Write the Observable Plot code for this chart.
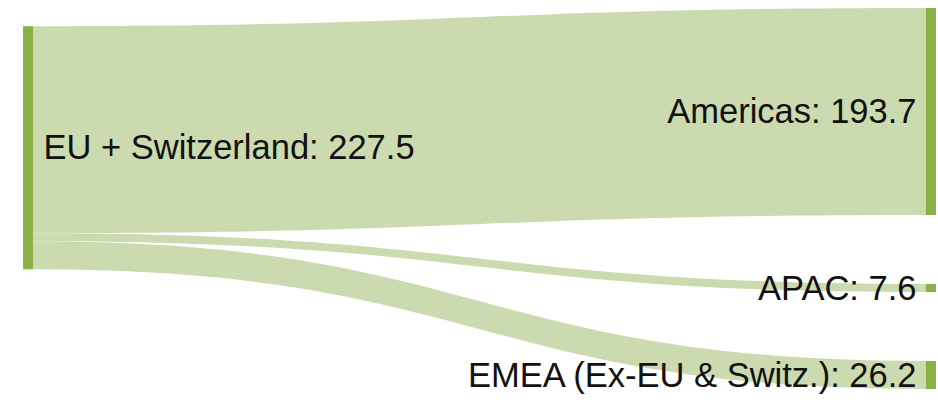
<!DOCTYPE html>
<html>
<head>
<meta charset="utf-8">
<script src="https://cdn.jsdelivr.net/npm/d3@7"></script>
<script src="https://cdn.jsdelivr.net/npm/@observablehq/plot@0.6"></script>
<style>
  html, body { margin: 0; padding: 0; background: #fff; }
  #chart { width: 938px; height: 404px; }
</style>
</head>
<body>
<div id="chart"></div>
<script>
// ---- data ----
const sourceName = "EU + Switzerland";
const targetNames = ["Americas", "APAC", "EMEA (Ex-EU & Switz.)"];
const flowValues = [193.7, 7.6, 26.2];

// ---- layout constants ----
const W = 938, H = 404;
const marginLeft = 23, marginRight = 2, marginTop = 8, marginBottom = 15;
const nodeWidthPx = 10;
const nodePadding = 64.5; // in value units
const nodeColor = "#8bb046";
const linkColor = "#ccdaaf";

// ---- sankey layout (computed) ----
const total = d3.sum(flowValues);
const targetTops = [];
{
  let y = 0;
  flowValues.forEach((v, i) => { targetTops.push(y); y += v + nodePadding; });
}
const extent = targetTops[targetTops.length - 1] + flowValues[flowValues.length - 1];
const sourceOffsets = [];
{
  let o = 0;
  flowValues.forEach(v => { sourceOffsets.push(o); o += v; });
}
// relax source position (weighted so links are as horizontal as possible)
const sourceTop = d3.sum(flowValues, (v, i) => v * (targetTops[i] - sourceOffsets[i])) / total;

const nw = nodeWidthPx / (W - marginLeft - marginRight);

const nodes = [
  {name: sourceName, value: total, x1: 0, x2: nw, y1: sourceTop, y2: sourceTop + total, side: "left"},
  ...targetNames.map((n, i) => ({
    name: n, value: flowValues[i], x1: 1 - nw, x2: 1,
    y1: targetTops[i], y2: targetTops[i] + flowValues[i], side: "right"
  }))
];

const linkRows = [];
targetNames.forEach((n, i) => {
  linkRows.push({link: n, x: nw, y1: sourceTop + sourceOffsets[i], y2: sourceTop + sourceOffsets[i] + flowValues[i]});
  linkRows.push({link: n, x: 1 - nw, y1: targetTops[i], y2: targetTops[i] + flowValues[i]});
});

const label = d => `${d.name}: ${d.value.toFixed(1)}`;

const chart = Plot.plot({
  width: W,
  height: H,
  marginLeft, marginRight, marginTop, marginBottom,
  style: {fontFamily: "'Liberation Sans', Arial, sans-serif", background: "#fff"},
  x: {domain: [0, 1], axis: null},
  y: {domain: [0, extent], range: [marginTop, H - marginBottom], axis: null},
  marks: [
    Plot.area(linkRows, {x1: "x", y1: "y1", y2: "y2", z: "link", curve: "bump-x", fill: linkColor}),
    Plot.rect(nodes, {x1: "x1", x2: "x2", y1: "y1", y2: "y2", fill: nodeColor}),
    Plot.text(nodes.filter(d => d.side === "left"), {
      x: "x2", y: d => (d.y1 + d.y2) / 2, text: label,
      textAnchor: "start", dx: 10, fontSize: 34.5, fill: "#111"
    }),
    Plot.text(nodes.filter(d => d.side === "right"), {
      x: "x1", y: d => (d.y1 + d.y2) / 2, text: label,
      textAnchor: "end", dx: -10, fontSize: 34.5, fill: "#111"
    })
  ]
});
document.getElementById("chart").appendChild(chart);
</script>
</body>
</html>
